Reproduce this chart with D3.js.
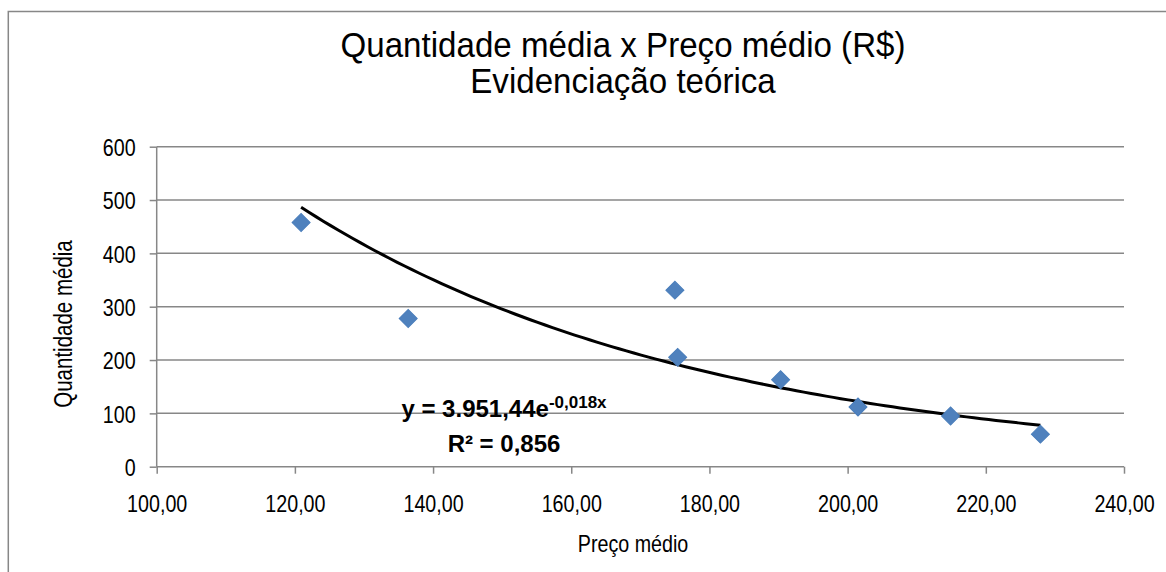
<!DOCTYPE html>
<html>
<head>
<meta charset="utf-8">
<script src="https://cdn.jsdelivr.net/npm/d3@7"></script>
<style>
  html, body { margin: 0; padding: 0; background: #ffffff; }
  svg { display: block; }
  text { font-family: "Liberation Sans", Arial, sans-serif; fill: #000; }
</style>
</head>
<body>
<svg id="chart" width="1166" height="572"></svg>
<script>
// ---- data ----
const titleLines = ["Quantidade média x Preço médio (R$)", "Evidenciação teórica"];
const xLabel = "Preço médio";
const yLabel = "Quantidade média";
const precoMedio = [120.9, 136.4, 175.0, 175.4, 190.3, 201.5, 214.9, 227.9];
const quantidadeMedia = [458, 278, 331, 205, 163, 112, 95, 61];
const xTicks = [100, 120, 140, 160, 180, 200, 220, 240];
const yTicks = [0, 100, 200, 300, 400, 500, 600];
const equationMain = "y = 3.951,44e";
const equationExp = "-0,018x";
const rSquared = "R² = 0,856";

// ---- layout ----
const W = 1166, H = 572;
const plot = { left: 156.7, right: 1124, top: 146.7, bottom: 466.7 };
const gridColor = "#878787";
const FONT = "'Liberation Sans', Arial, sans-serif";

// emulate a narrow (condensed) face by compressing the measured width
function narrow(sel, factor = 0.82) {
  sel.each(function () {
    const L = this.getComputedTextLength();
    this.setAttribute("textLength", (L * factor).toFixed(2));
    this.setAttribute("lengthAdjust", "spacingAndGlyphs");
  });
}

const svg = d3.select("#chart");
svg.append("rect").attr("width", W).attr("height", H).attr("fill", "#fff");
// chart frame (extends past the bottom/right edge like the reference)
svg.append("rect").attr("x", 8.3).attr("y", 11.5).attr("width", 1200).attr("height", 600)
  .attr("fill", "none").attr("stroke", gridColor).attr("stroke-width", 1.5);

const x = d3.scaleLinear().domain([100, 240]).range([plot.left, plot.right]);
const y = d3.scaleLinear().domain([0, 600]).range([plot.bottom, plot.top]);

// gridlines
svg.append("g").selectAll("line").data(yTicks.filter(d => d > 0)).join("line")
  .attr("x1", plot.left).attr("x2", plot.right)
  .attr("y1", d => y(d)).attr("y2", d => y(d))
  .attr("stroke", gridColor).attr("stroke-width", 1.5);

// axes
const fmtX = d => d3.format(".2f")(d).replace(".", ",");
const yAxis = svg.append("g").attr("transform", `translate(${plot.left},0)`)
  .call(d3.axisLeft(y).tickValues(yTicks).tickSize(7).tickPadding(14).tickFormat(d3.format("d")));
const xAxis = svg.append("g").attr("transform", `translate(0,${plot.bottom})`)
  .call(d3.axisBottom(x).tickValues(xTicks).tickSize(7).tickPadding(21).tickFormat(fmtX));
[xAxis, yAxis].forEach(g => {
  g.select(".domain").attr("stroke", gridColor).attr("stroke-width", 1.5);
  g.selectAll(".tick line").attr("stroke", gridColor).attr("stroke-width", 1.5);
  g.selectAll(".tick text").attr("font-size", 24).attr("fill", "#000").style("font-family", FONT);
  narrow(g.selectAll(".tick text"));
});
yAxis.selectAll(".tick text").attr("dy", "0.36em");
yAxis.select(".domain").attr("d", `M0,${plot.top}V${plot.bottom}`);
xAxis.select(".domain").attr("d", `M${plot.left},0H${plot.right}`);

// trend line: exponential least-squares fit of the data
const lny = quantidadeMedia.map(Math.log);
const mx = d3.mean(precoMedio), my = d3.mean(lny);
const b = d3.sum(precoMedio, (v, i) => (v - mx) * (lny[i] - my)) / d3.sum(precoMedio, v => (v - mx) ** 2);
const a = Math.exp(my - b * mx);
const xMin = d3.min(precoMedio), xMax = d3.max(precoMedio);
const trend = d3.range(0, 101).map(i => {
  const xv = xMin + (xMax - xMin) * i / 100;
  return [xv, a * Math.exp(b * xv)];
});
svg.append("path").datum(trend)
  .attr("d", d3.line().x(d => x(d[0])).y(d => y(d[1])))
  .attr("fill", "none").attr("stroke", "#000").attr("stroke-width", 3);

// markers (diamonds)
const diamond = d3.symbol().type(d3.symbolSquare).size(162);
svg.append("g").selectAll("path").data(precoMedio.map((v, i) => [v, quantidadeMedia[i]])).join("path")
  .attr("d", diamond)
  .attr("transform", d => `translate(${x(d[0])},${y(d[1])}) rotate(45)`)
  .attr("fill", "#4F81BD").attr("stroke", "#4A7EBB").attr("stroke-width", 1);

// equation label
const eq = svg.append("text").attr("x", 504).attr("y", 416.5).attr("text-anchor", "middle")
  .attr("font-size", 24).attr("font-weight", "bold");
eq.append("tspan").text(equationMain);
eq.append("tspan").attr("font-size", 17).attr("dy", -8.5).text(equationExp);
svg.append("text").attr("x", 504).attr("y", 451.7).attr("text-anchor", "middle")
  .attr("font-size", 24).attr("font-weight", "bold").text(rSquared);

// two-line title as one text block, slightly condensed
const title = svg.append("text").attr("transform", "translate(623,0) scale(0.92,1)")
  .attr("text-anchor", "middle").attr("font-size", 36);
title.selectAll("tspan").data(titleLines).join("tspan")
  .attr("x", 0).attr("y", (d, i) => 57 + i * 36.5).text(d => d);

const xl = svg.append("text").attr("x", 633).attr("y", 552).attr("text-anchor", "middle")
  .attr("font-size", 24).text(xLabel);
narrow(xl);
const yl = svg.append("text").attr("transform", "translate(72,324) rotate(-90)").attr("text-anchor", "middle")
  .attr("font-size", 25).text(yLabel);
narrow(yl);
</script>
</body>
</html>
